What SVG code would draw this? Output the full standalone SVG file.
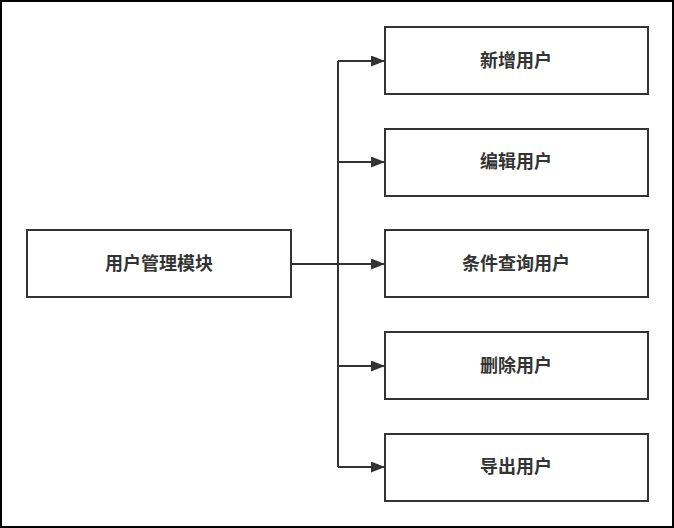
<svg xmlns="http://www.w3.org/2000/svg" width="674" height="528" viewBox="0 0 674 528">
<style>
.box{fill:#fff;stroke:#333;stroke-width:2}
.lbl{font-family:"Liberation Sans","Noto Sans CJK SC",sans-serif;font-size:18px;font-weight:bold;fill:#333;text-anchor:middle;dominant-baseline:central}
.conn{fill:none;stroke:#333;stroke-width:2}
</style>
<defs>
<marker id="arr" markerWidth="14" markerHeight="11" refX="13" refY="5.5" orient="auto" markerUnits="userSpaceOnUse">
<path d="M0,0 L14,5.5 L0,11 Z" fill="#333"/>
</marker>
</defs>
<rect x="1" y="1" width="672" height="526" fill="#fff" stroke="#000" stroke-width="2"/>
<g id="connectors">
<path class="conn" d="M291,264 H338"/>
<path class="conn" d="M338,61 V467"/>
<path class="conn" d="M338,61 H384" marker-end="url(#arr)"/>
<path class="conn" d="M338,162 H384" marker-end="url(#arr)"/>
<path class="conn" d="M338,264 H384" marker-end="url(#arr)"/>
<path class="conn" d="M338,366 H384" marker-end="url(#arr)"/>
<path class="conn" d="M338,467 H384" marker-end="url(#arr)"/>
</g>
<g id="root"><rect class="box" x="27" y="230" width="264" height="67"/><text class="lbl" x="159" y="264">用户管理模块</text></g>
<g id="n1"><rect class="box" x="385" y="27" width="263" height="67"/><text class="lbl" x="516" y="61">新增用户</text></g>
<g id="n2"><rect class="box" x="385" y="129" width="263" height="67"/><text class="lbl" x="516" y="162">编辑用户</text></g>
<g id="n3"><rect class="box" x="385" y="230" width="263" height="67"/><text class="lbl" x="516" y="264">条件查询用户</text></g>
<g id="n4"><rect class="box" x="385" y="332" width="263" height="67"/><text class="lbl" x="516" y="366">删除用户</text></g>
<g id="n5"><rect class="box" x="385" y="434" width="263" height="67"/><text class="lbl" x="516" y="467">导出用户</text></g>
</svg>
